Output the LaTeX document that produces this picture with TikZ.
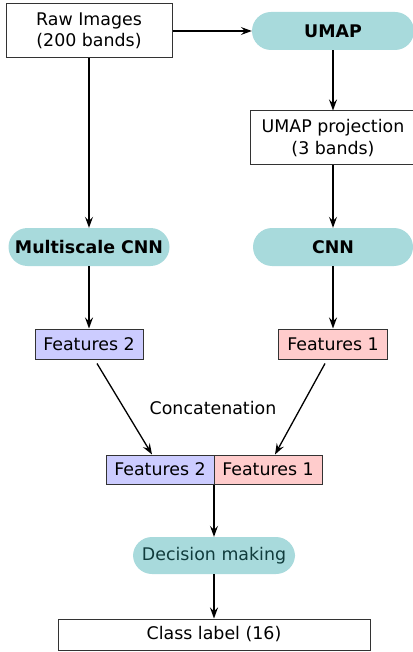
\documentclass[tikz,border=0pt]{standalone}
\usepackage{fontspec}
\setmainfont{DejaVu Sans}
\usetikzlibrary{arrows.meta,calc}
\definecolor{tealfill}{HTML}{A8DADC}
\definecolor{tealtext}{HTML}{103C3C}
\definecolor{bluefill}{HTML}{CCCCFF}
\definecolor{pinkfill}{HTML}{FFCCCC}
\definecolor{bordergray}{HTML}{333333}
\begin{document}
\begin{tikzpicture}[x=1pt,y=1pt,
  every node/.style={font=\fontsize{17.4}{21.5}\selectfont, inner sep=0pt, align=center},
  plainbox/.style={draw=bordergray, line width=1pt, fill=white},
  procbox/.style={fill=tealfill, rounded corners=19pt, minimum height=38pt},
  boldtext/.style={font=\fontsize{17.4}{21.5}\selectfont\bfseries},
  featbox/.style={draw=bordergray, line width=1pt, minimum height=30pt},
  conn/.style={line width=1.3pt, -{Stealth[length=11pt,width=8pt,inset=4pt]}}]
\useasboundingbox (0,0) rectangle (412,-652);
\node[plainbox, minimum width=166pt, minimum height=54pt] (raw) at (89,-31) {Raw Images\\(200 bands)};
\node[procbox, boldtext, minimum width=162pt] (umap) at (333,-31) {UMAP};
\node[plainbox, minimum width=166pt, minimum height=54pt] (proj) at (333,-138) {UMAP projection\\(3 bands)};
\node[procbox, boldtext, minimum width=161pt] (mcnn) at (89,-247) {Multiscale CNN};
\node[procbox, boldtext, minimum width=160pt] (cnn) at (333,-247) {CNN};
\node[featbox, fill=bluefill, minimum width=108pt] (f2) at (89,-344) {Features 2};
\node[featbox, fill=pinkfill, minimum width=109pt] (f1) at (333,-344) {Features 1};
\node (concat) at (213,-408) {Concatenation};
\node[featbox, fill=bluefill, minimum width=108pt, minimum height=29pt] (c2) at (160,-469.5) {Features 2};
\node[featbox, fill=pinkfill, minimum width=108pt, minimum height=29pt] (c1) at (268,-469.5) {Features 1};
\node[procbox, minimum width=162pt, minimum height=37pt, text=tealtext] (dec) at (214,-555.5) {Decision making};
\node[plainbox, minimum width=312pt, minimum height=31pt] (cls) at (214,-634.5) {Class label (16)};
\draw[conn] (raw.east) -- (umap.west);
\draw[conn] (umap.south) -- (proj.north);
\draw[conn] (raw.south) -- (mcnn.north);
\draw[conn] (proj.south) -- (cnn.north);
\draw[conn] (mcnn.south) -- (f2.north);
\draw[conn] (cnn.south) -- (f1.north);
\draw[conn] ($(f2.south)+(8,-4)$) -- ($(c2.north)+(-8,0)$);
\draw[conn] ($(f1.south)+(-8,-4)$) -- ($(c1.north)+(7,0)$);
\draw[conn] (dec.north |- c2.south) -- (dec.north);
\draw[conn] (dec.south) -- (cls.north);
\end{tikzpicture}
\end{document}
